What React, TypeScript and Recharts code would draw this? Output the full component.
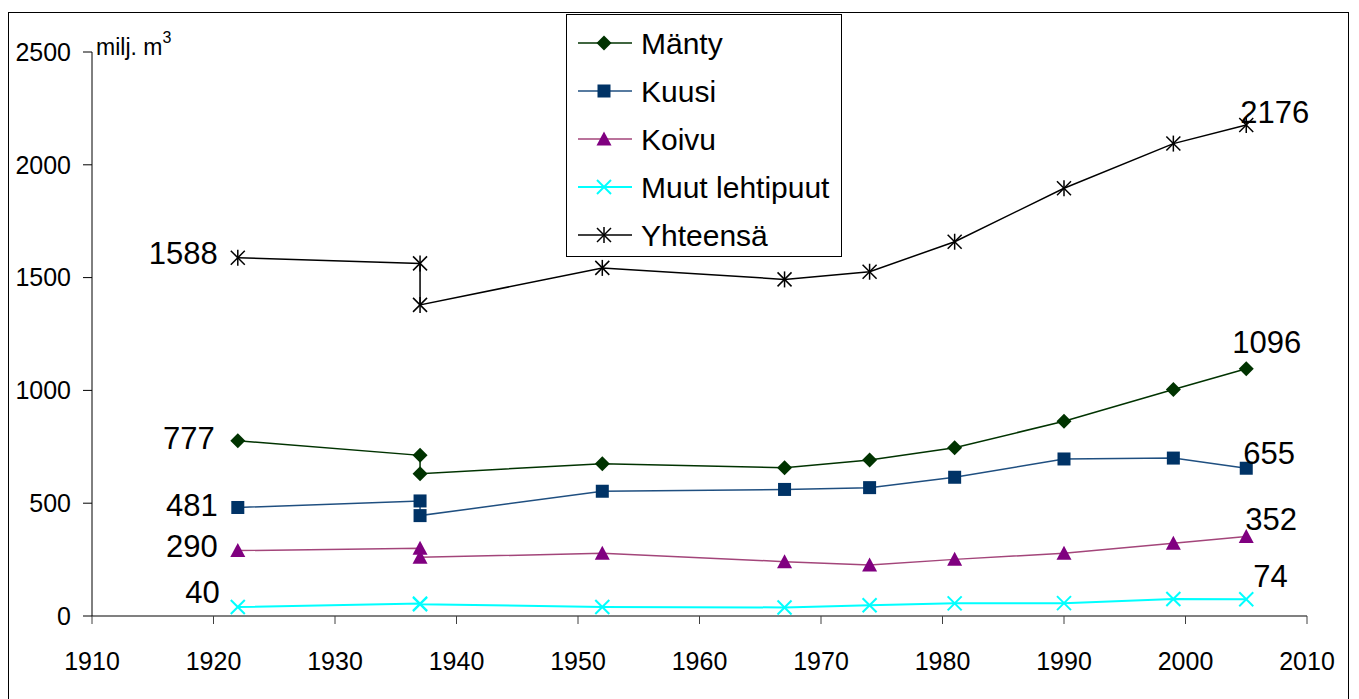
import React from 'react';
import { LineChart, Line, XAxis, YAxis, Legend, LabelList } from 'recharts';

// inventory years (1937 appears twice: old and new method)
const years = [1922, 1937, 1937, 1952, 1967, 1974, 1981, 1990, 1999, 2005];

const manty = [777, 712, 631, 675, 657, 691, 746, 863, 1004, 1096];
const kuusi = [481, 510, 445, 553, 561, 569, 615, 696, 700, 655];
const koivu = [290, 300, 260, 278, 241, 226, 251, 278, 322, 352];
const muut = [40, 55, 52, 40, 38, 48, 56, 57, 75, 74];
const yhteensa = [1588, 1563, 1379, 1543, 1492, 1526, 1659, 1896, 2094, 2176];

const xTicks = [1910, 1920, 1930, 1940, 1950, 1960, 1970, 1980, 1990, 2000, 2010];
const yTicks = [0, 500, 1000, 1500, 2000, 2500];

const FONT = '"Liberation Sans", Arial, sans-serif';

type Shape = 'diamond' | 'square' | 'triangle' | 'x' | 'star';

const series = [
  { name: 'Mänty', values: manty, line: '#003300', mark: '#003300', shape: 'diamond' as Shape, width: 1.5, first: [-23, -2], last: [-14, -26] },
  { name: 'Kuusi', values: kuusi, line: '#1f4f80', mark: '#003366', shape: 'square' as Shape, width: 1.5, first: [-20, -2], last: [-3, -15] },
  { name: 'Koivu', values: koivu, line: '#a3457a', mark: '#800080', shape: 'triangle' as Shape, width: 1.5, first: [-20, -4], last: [-1, -17] },
  { name: 'Muut lehtipuut', values: muut, line: '#00ffff', mark: '#00ffff', shape: 'x' as Shape, width: 2, first: [-18, -14], last: [7, -23] },
  { name: 'Yhteensä', values: yhteensa, line: '#000000', mark: '#000000', shape: 'star' as Shape, width: 1.5, first: [-20, -4], last: [-6, -13] },
];

function Marker({ cx, cy, shape, color }: { cx: number; cy: number; shape: Shape; color: string }) {
  const r = 7.5;
  if (shape === 'diamond') {
    return <polygon points={`${cx},${cy - r} ${cx + r},${cy} ${cx},${cy + r} ${cx - r},${cy}`} fill={color} />;
  }
  if (shape === 'square') {
    return <rect x={cx - 6.5} y={cy - 6.5} width={13} height={13} fill={color} />;
  }
  if (shape === 'triangle') {
    return <polygon points={`${cx},${cy - 7.5} ${cx + 7.5},${cy + 6.5} ${cx - 7.5},${cy + 6.5}`} fill={color} />;
  }
  if (shape === 'x') {
    return (
      <g stroke={color} strokeWidth={2}>
        <line x1={cx - 7} y1={cy - 7} x2={cx + 7} y2={cy + 7} />
        <line x1={cx - 7} y1={cy + 7} x2={cx + 7} y2={cy - 7} />
      </g>
    );
  }
  return (
    <g stroke={color} strokeWidth={1.5}>
      <line x1={cx - 7} y1={cy - 7} x2={cx + 7} y2={cy + 7} />
      <line x1={cx - 7} y1={cy + 7} x2={cx + 7} y2={cy - 7} />
      <line x1={cx} y1={cy - 8} x2={cx} y2={cy + 8} />
    </g>
  );
}

function renderLegend() {
  return (
    <div style={{ width: 276, height: 243, border: '1px solid #000', background: '#fff', boxSizing: 'border-box' }}>
      <svg width={274} height={241}>
        {series.map((s, i) => {
          const y = 28 + i * 48;
          return (
            <g key={s.name}>
              <line x1={11} y1={y} x2={65} y2={y} stroke={s.line} strokeWidth={s.width} />
              <Marker cx={37} cy={y} shape={s.shape} color={s.mark} />
              <text x={74} y={y} dominantBaseline="central" fontSize={30} fontFamily={FONT} fill="#000">
                {s.name}
              </text>
            </g>
          );
        })}
      </svg>
    </div>
  );
}

export default function App() {
  return (
    <div style={{ position: 'absolute', left: 8, top: 12, width: 1341, height: 700, border: '1px solid #000', boxSizing: 'border-box', background: '#fff' }}>
      <div style={{ position: 'absolute', left: 87, top: 16, fontFamily: FONT, fontSize: 23, lineHeight: '23px' }}>
        milj. m<sup style={{ fontSize: 16, position: 'relative', top: -3 }}>3</sup>
      </div>
      <LineChart width={1338} height={690} margin={{ top: 39, right: 40, left: 0, bottom: 47 }}>
        <XAxis
          type="number"
          dataKey="year"
          domain={[1910, 2010]}
          ticks={xTicks}
          allowDataOverflow
          axisLine={{ stroke: '#808080', strokeWidth: 2 }}
          tickLine={{ stroke: '#404040' }}
          tickSize={8}
          tickMargin={28}
          height={40}
          tick={{ fontSize: 25, fontFamily: FONT, fill: '#000' }}
        />
        <YAxis
          type="number"
          domain={[0, 2500]}
          ticks={yTicks}
          width={83}
          axisLine={{ stroke: '#000' }}
          tickLine={{ stroke: '#000' }}
          tickSize={9}
          tickMargin={12}
          tick={{ fontSize: 25, fontFamily: FONT, fill: '#000' }}
        />
        <Legend
          layout="vertical"
          align="center"
          verticalAlign="middle"
          wrapperStyle={{ left: 557, top: 1, width: 276, height: 243 }}
          content={renderLegend}
        />
        {series.map((s) => {
          const data = years.map((year, i) => ({ year, value: s.values[i] }));
          const lastIdx = data.length - 1;
          return (
            <Line
              key={s.name}
              name={s.name}
              data={data}
              dataKey="value"
              type="linear"
              stroke={s.line}
              strokeWidth={s.width}
              isAnimationActive={false}
              activeDot={false}
              dot={(p: any) => (
                <g key={`${s.name}-dot-${p.index}`}>
                  <Marker cx={p.cx} cy={p.cy} shape={s.shape} color={s.mark} />
                </g>
              )}
            >
              <LabelList
                dataKey="value"
                content={(p: any) => {
                  if (p.index !== 0 && p.index !== lastIdx) return null;
                  const isFirst = p.index === 0;
                  const off = isFirst ? s.first : s.last;
                  return (
                    <text
                      x={p.x + off[0]}
                      y={p.y + off[1]}
                      textAnchor={isFirst ? 'end' : 'start'}
                      dominantBaseline="central"
                      fontSize={31}
                      fontFamily={FONT}
                      fill="#000"
                    >
                      {p.value}
                    </text>
                  );
                }}
              />
            </Line>
          );
        })}
      </LineChart>
    </div>
  );
}
